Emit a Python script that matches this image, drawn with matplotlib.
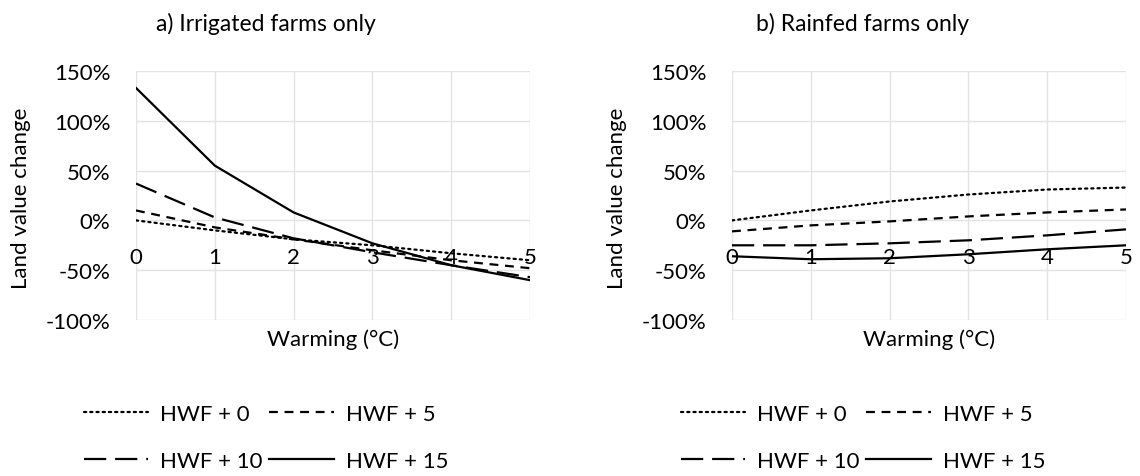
import matplotlib
matplotlib.use("Agg")
import matplotlib.pyplot as plt
from matplotlib.ticker import FuncFormatter

plt.rcParams['font.family'] = ['Lato', 'DejaVu Sans']

warming = [0, 1, 2, 3, 4, 5]
series_labels = ['HWF + 0', 'HWF + 5', 'HWF + 10', 'HWF + 15']

# land value change in %
irrigated = {
    'HWF + 0': [0, -10, -19, -25, -33, -40],
    'HWF + 5': [10, -7, -19, -30, -40, -48],
    'HWF + 10': [37, 3, -18, -32, -45, -57],
    'HWF + 15': [133, 55, 8, -23, -45, -60],
}
rainfed = {
    'HWF + 0': [0, 10, 19, 26, 31, 33],
    'HWF + 5': [-11, -5, -1, 4, 8, 11],
    'HWF + 10': [-25, -25, -23, -20, -15, -9],
    'HWF + 15': [-36, -39, -38, -34, -29, -25],
}

styles = {
    'HWF + 0': (0, (1, 1.8)),
    'HWF + 5': (0, (4, 3)),
    'HWF + 10': (0, (10, 4)),
    'HWF + 15': '-',
}

FS = 16
fig = plt.figure(figsize=(11.4, 4.77), dpi=100)
W, H = 1140, 477

def panel(x0, x1, data, title, cx):
    ax = fig.add_axes([x0 / W, 1 - 321 / H, (x1 - x0) / W, (321 - 72) / H])
    handles = {}
    for name in series_labels:
        (h,) = ax.plot(warming, data[name], color='black', lw=1.6,
                       linestyle=styles[name],
                       dash_capstyle='round' if name == 'HWF + 0' else 'butt')
        handles[name] = h
    ax.set_xlim(0, 5)
    ax.set_ylim(-100, 150)
    ax.set_yticks([-100, -50, 0, 50, 100, 150])
    ax.set_xticks(warming)
    ax.yaxis.set_major_formatter(FuncFormatter(lambda v, p: f'{v:.0f}%'))
    ax.grid(True, color='#e3e3e3', lw=1)
    ax.set_axisbelow(True)
    for s in ['top', 'right', 'left']:
        ax.spines[s].set_visible(False)
    ax.spines['bottom'].set_position(('data', -23))
    ax.spines['bottom'].set_visible(False)
    ax.tick_params(length=0, labelsize=FS)
    ax.tick_params(axis='x', pad=3)
    ax.tick_params(axis='y', pad=18.5)
    fig.text((x0 - 115) / W, 1 - 198 / H, 'Land value change', rotation=90,
             ha='center', va='center', fontsize=FS)
    fig.text((x0 + x1) / 2 / W, 1 - 340 / H, 'Warming (°C)',
             ha='center', va='center', fontsize=FS)
    fig.text(cx / W, 1 - 24 / H, title, ha='center', va='center', fontsize=16.5)
    order = ['HWF + 0', 'HWF + 10', 'HWF + 5', 'HWF + 15']
    fig.legend([handles[n] for n in order], order, ncol=2, frameon=False,
               loc='upper center', bbox_to_anchor=(cx / W, 1 - 405 / H),
               fontsize=FS, handlelength=2.9, handletextpad=0.55,
               columnspacing=0.3, labelspacing=1.2, borderpad=0, borderaxespad=0)
    return ax

panel(136, 530, irrigated, 'a) Irrigated farms only', 266)
panel(732, 1126, rainfed, 'b) Rainfed farms only', 863)

fig.savefig('out.png', dpi=100)
